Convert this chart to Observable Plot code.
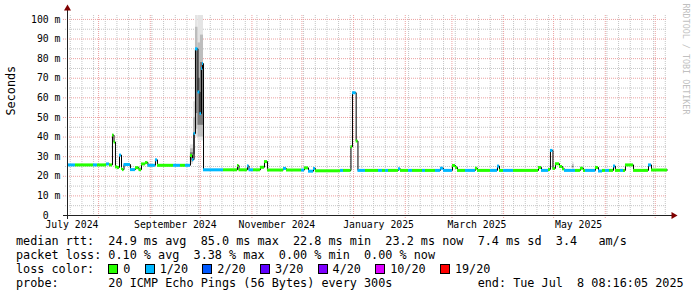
<!DOCTYPE html>
<html>
<head>
<meta charset="utf-8">
<script src="https://cdn.jsdelivr.net/npm/d3@7"></script>
<script src="https://cdn.jsdelivr.net/npm/@observablehq/plot@0.6"></script>
<style>
html, body { margin: 0; padding: 0; background: #fff; }
#wrap { position: relative; width: 697px; height: 297px; overflow: hidden; background: #fff; }
#chart svg { display: block; }
.legend { position: absolute; left: 16px; font-family: "DejaVu Sans Mono", monospace; font-size: 11.8px; line-height: 14px; white-space: pre; color: #000; }
.box { display: inline-block; box-sizing: border-box; width: 10px; height: 10px; border: 1px solid #000; margin-right: 5px; vertical-align: -1px; }
</style>
</head>
<body>
<div id="wrap"><div id="chart"></div></div>
<script>
// ---------------- data ----------------
const startTime = "2024-07-13T08:16:05";
const endTime = "2025-07-08T08:16:05";

// start of each median step (UTC)
const segStart = [
"2024-07-13T08:16","2024-07-18T03:00","2024-07-28T22:00","2024-07-31T08:00","2024-08-05T18:00","2024-08-07T13:00",
"2024-08-09T08:00","2024-08-10T06:00","2024-08-11T03:00","2024-08-12T08:00","2024-08-13T13:00","2024-08-14T18:00",
"2024-08-15T08:00","2024-08-16T06:00","2024-08-20T03:00","2024-08-23T03:00","2024-08-25T06:00","2024-08-26T18:00",
"2024-08-29T03:00","2024-08-30T15:00","2024-09-04T03:00","2024-09-05T08:00","2024-09-14T23:00","2024-09-19T03:00",
"2024-09-22T03:00","2024-09-25T03:00","2024-09-26T08:00","2024-09-27T06:00","2024-09-28T03:00","2024-09-29T15:00",
"2024-09-30T20:00","2024-10-01T18:00","2024-10-02T08:00","2024-10-02T23:00","2024-10-14T23:00","2024-10-23T08:00",
"2024-10-24T06:00","2024-10-29T08:00","2024-10-30T06:00","2024-11-01T23:00","2024-11-06T03:00","2024-11-08T13:00",
"2024-11-10T08:00","2024-11-19T23:00","2024-11-21T18:00","2024-11-30T18:00","2024-12-02T13:00","2024-12-04T23:00",
"2024-12-07T23:00","2024-12-09T03:00","2024-12-24T03:00","2024-12-25T23:00","2024-12-30T10:00","2024-12-31T08:00",
"2025-01-02T13:00","2025-01-03T15:00","2025-01-08T03:00","2025-01-15T23:00","2025-01-18T08:00","2025-01-20T03:00",
"2025-01-21T23:00","2025-01-27T23:00","2025-01-29T03:00","2025-02-02T23:00","2025-02-05T08:00","2025-02-11T08:00",
"2025-02-13T03:00","2025-02-19T03:00","2025-02-22T03:00","2025-02-23T23:00","2025-03-01T08:00","2025-03-03T03:00",
"2025-03-04T08:00","2025-03-09T03:00","2025-03-15T03:00","2025-03-16T08:00","2025-03-24T03:00","2025-03-28T08:00",
"2025-03-29T13:00","2025-03-31T23:00","2025-04-06T23:00","2025-04-21T23:00","2025-04-23T18:00","2025-04-27T23:00",
"2025-04-29T03:00","2025-04-30T15:00","2025-05-02T03:00","2025-05-04T13:00","2025-05-06T08:00","2025-05-07T13:00",
"2025-05-14T03:00","2025-05-17T03:00","2025-05-18T23:00","2025-05-20T03:00","2025-05-26T03:00","2025-05-27T23:00",
"2025-05-30T08:00","2025-06-01T03:00","2025-06-03T13:00","2025-06-05T23:00","2025-06-07T03:00","2025-06-10T03:00",
"2025-06-11T23:00","2025-06-13T03:00","2025-06-17T23:00","2025-06-26T23:00","2025-06-28T18:00"
];
// median rtt (ms) of each step
const medianMs = [
25.8,25.8,25.8,25.8,26.3,25.8,
41.0,37.5,24.8,24.5,30.8,24.0,
23.4,26.0,23.4,24.4,23.4,26.3,
27.0,25.6,28.4,25.6,25.6,25.6,
25.6,30.6,28.5,41.8,85.0,63.0,
52.0,75.0,77.5,23.3,23.3,25.5,
23.3,25.3,23.3,23.3,24.6,27.5,
23.2,24.0,23.2,23.2,24.3,22.6,
24.0,22.8,23.0,23.0,35.0,62.6,
38.0,23.0,23.0,23.0,23.0,23.0,
23.0,23.8,23.0,23.0,23.0,23.0,
23.0,23.0,24.1,23.0,25.5,24.5,
23.0,23.0,24.1,23.0,23.0,25.2,
23.0,23.0,23.0,24.5,23.0,23.5,
33.2,24.0,26.4,25.0,23.8,23.0,
23.0,24.1,23.0,23.0,24.5,22.7,
23.0,23.0,23.0,25.2,23.0,23.0,
23.0,25.8,23.0,25.8,23.2
];
// packet loss (%) of each step
const lossPct = [
0.5,0,0.5,0,0.5,0,
0,0,0,0,0.5,0,
0,0.5,0.5,0,0,0,
0,0.5,0.5,0,0.5,0,
0.5,0,0.5,1.5,3.38,2.5,
2.0,1.5,1.0,0.5,0,0,
0,0.5,0.5,0,0,0,
0,0.5,0,0.5,0,0.5,
0.5,0,0.5,0,0,0.5,
0,0.5,0,0.5,0,0.5,
0,0.5,0,0.5,0,0.5,
0,0.5,0.5,0.5,0,0,
0,0.5,0,0,0.5,0.5,
0,0.5,0,0,0.5,0,
0.5,0,0,0,0,0.5,
0,0,0,0.5,0,0.5,
0,0.5,0,0.5,0,0.5,
0,0,0,0.5,0
];

// smoke (distribution of the 20 pings) where visible
const smokeStart = ["2024-09-25T03:00","2024-09-26T23:00","2024-09-28T03:00","2024-09-29T15:00","2024-10-01T03:00","2025-05-12T08:00"];
const smokeEnd   = ["2024-09-26T23:00","2024-09-28T03:00","2024-09-29T15:00","2024-10-01T03:00","2024-10-02T23:00","2025-05-13T08:00"];
const smokeLow   = [26, 28, 40, 38, 38, 23.5];
const smokeHigh  = [36, 58, 102, 102, 102, 27];
const smokeMidLow  = [27, 29, 44, 40, 40, 24];
const smokeMidHigh = [34, 50, 96, 88, 92, 26];
const smokeCoreLow  = [28, 31, 52, 46, 46, 24.5];
const smokeCoreHigh = [32, 42, 84, 70, 78, 25];

// legend
const lossBuckets = ["0", "1/20", "2/20", "3/20", "4/20", "10/20", "19/20"];
const lossPings   = [0, 1, 2, 3, 4, 10, 19];
const lossColors  = ["#26ff00", "#00b8ff", "#0059ff", "#5e00ff", "#7e00ff", "#dd00ff", "#ff0000"];
const rttStats  = ["24.9", "85.0", "22.8", "23.2"];
const rttSd = "7.4", rttAms = "3.4";
const lossStats = ["0.10", "3.38", "0.00", "0.00"];
const probeText = "20 ICMP Echo Pings (56 Bytes) every 300s";
const endText = "Tue Jul  8 08:16:05 2025";

const yLabels = [0, 10, 20, 30, 40, 50, 60, 70, 80, 90, 100];
const xLabelMonths = ["2024-07", "2024-09", "2024-11", "2025-01", "2025-03", "2025-05"];

// ---------------- build ----------------
const T = s => new Date(s + "Z");
const t0 = T(startTime), t1 = T(endTime);
const segs = segStart.map((s, i) => ({
  start: T(s),
  end: i < segStart.length - 1 ? T(segStart[i + 1]) : t1,
  v: medianMs[i],
  loss: lossPct[i]
}));
const linePts = segs.map(d => ({t: d.start, v: d.v})).concat([{t: t1, v: medianMs[medianMs.length - 1]}]);
const smoke = smokeStart.map((s, i) => ({
  a: T(s), b: T(smokeEnd[i]),
  lo: smokeLow[i], hi: smokeHigh[i],
  mlo: smokeMidLow[i], mhi: smokeMidHigh[i],
  clo: smokeCoreLow[i], chi: smokeCoreHigh[i]
}));

function lossColor(pct) {
  const pings = pct / 100 * 20;
  for (let i = 0; i < lossPings.length; i++) if (pings <= lossPings[i]) return lossColors[i];
  return lossColors[lossColors.length - 1];
}

const GRID = "rgb(196,196,196)";
const MGRID = "rgb(236,160,160)";
const AXIS = "#212121";
const ARROW = "#800000";

const yMajor = d3.range(10, 101, 10);
const yMinor = d3.range(5, 101, 10);
const xMajor = d3.utcMonth.range(t0, t1);
const xMinor = d3.utcMonday.range(t0, t1);
const xLabelTicks = xLabelMonths.map(m => d3.utcDay.offset(T(m + "-01T00:00"), 15));

const chart = Plot.plot({
  width: 697,
  height: 234,
  marginLeft: 67,
  marginRight: 30,
  marginTop: 15,
  marginBottom: 19,
  style: {fontFamily: "'DejaVu Sans Mono', monospace", fontSize: "9.8px", background: "#fff", color: "#000", overflow: "visible"},
  x: {type: "utc", domain: [t0, t1]},
  y: {domain: [0, 102]},
  color: {type: "identity"},
  marks: [
    Plot.ruleY(yMinor, {stroke: GRID, strokeDasharray: "1,1", insetLeft: -2}),
    Plot.ruleX(xMinor, {stroke: GRID, strokeDasharray: "1,1", insetBottom: -2}),
    Plot.ruleY(yMajor, {stroke: MGRID, strokeDasharray: "1,1", insetLeft: -4}),
    Plot.ruleX(xMajor, {stroke: MGRID, strokeDasharray: "1,1", insetBottom: -4}),
    Plot.rect(smoke, {x1: "a", x2: "b", y1: "lo", y2: "hi", fill: "#e4e4e4"}),
    Plot.rect(smoke, {x1: "a", x2: "b", y1: "mlo", y2: "mhi", fill: "#bdbdbd"}),
    Plot.rect(smoke, {x1: "a", x2: "b", y1: "clo", y2: "chi", fill: "#7a7a7a"}),
    Plot.line(linePts, {x: "t", y: "v", curve: "step-after", stroke: "#000", strokeWidth: 1}),
    Plot.ruleY(segs, {y: "v", x1: "start", x2: "end", stroke: d => lossColor(d.loss), strokeWidth: 3}),
    Plot.ruleX([t0], {stroke: AXIS, insetTop: -6, insetBottom: -4}),
    Plot.ruleY([0], {stroke: AXIS, insetLeft: -4, insetRight: -5}),
    Plot.dot({length: 1}, {frameAnchor: "top-left", symbol: "triangle", r: 2.6, fill: ARROW, stroke: "none", dy: -7}),
    Plot.dot({length: 1}, {frameAnchor: "bottom-right", symbol: "triangle", r: 2.6, fill: ARROW, stroke: "none", dx: 6, rotate: 90}),
    Plot.axisY({ticks: yLabels, tickFormat: d => d === 0 ? "0\u00a0\u00a0" : d + " m", tickSize: 0, tickPadding: 7, label: null, fontSize: 9.8}),
    Plot.axisX({ticks: xLabelTicks, tickFormat: d3.utcFormat("%B %Y"), tickSize: 0, tickPadding: 6, label: null, fontSize: 9.8}),
    Plot.text(["Seconds"], {frameAnchor: "left", rotate: -90, dx: -56, fontSize: 11.8, fill: "#000"}),
    Plot.text(["RRDTOOL / TOBI OETIKER"], {frameAnchor: "top-right", rotate: 90, textAnchor: "start", dx: 21, dy: -12, fontSize: 8.4, fill: "#c0c0c0"})
  ]
});
document.getElementById("chart").appendChild(chart);

// ---------------- legend ----------------
const wrap = document.getElementById("wrap");
function row(top, html) {
  const d = document.createElement("div");
  d.className = "legend";
  d.style.top = top + "px";
  d.innerHTML = html;
  wrap.appendChild(d);
}
row(234, `median rtt:  ${rttStats[0]} ms avg  ${rttStats[1]} ms max  ${rttStats[2]} ms min  ${rttStats[3]} ms now  ${rttSd} ms sd  ${rttAms}   am/s`);
row(248, `packet loss: ${lossStats[0]} % avg  ${lossStats[1]} % max  ${lossStats[2]} % min  ${lossStats[3]} % now`);
row(262, "loss color:  " + lossBuckets.map((b, i) => `<span class="box" style="background:${lossColors[i]}"></span>${b}`).join("  "));
row(276, `probe:       ${probeText}            end: ${endText}`);
</script>
</body>
</html>
